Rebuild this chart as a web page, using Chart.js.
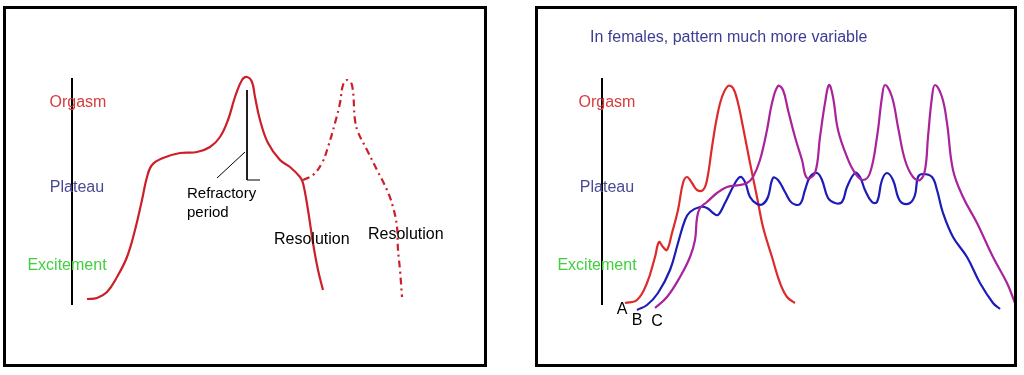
<!DOCTYPE html>
<html>
<head>
<meta charset="utf-8">
<script src="https://cdn.jsdelivr.net/npm/chart.js@4.4.1/dist/chart.umd.min.js"></script>
<style>
  body { margin: 0; background: #fff; }
  #wrap { position: relative; width: 1024px; height: 375px; overflow: hidden; }
  canvas { position: absolute; top: 0; }
  .frame { position: absolute; border: 3px solid #000; box-sizing: border-box; pointer-events: none; }
</style>
</head>
<body>
<div id="wrap">
  <canvas id="maleChart" width="512" height="375" style="left:0"></canvas>
  <canvas id="femaleChart" width="512" height="375" style="left:512px"></canvas>
  <div class="frame" style="left:3px;top:6px;width:484px;height:361px"></div>
  <div class="frame" style="left:535px;top:6px;width:482px;height:361px"></div>
</div>
<script>
// arousal levels (y) and their names, measured up from the bottom of the axis
const levelNames = ['Excitement', 'Plateau', 'Orgasm'];
const levelValues = [39, 117, 202];

// time (x) / arousal (y) pairs

// - - - - - male panel - - - - - //
const maleTime = [15, 25, 35, 45, 55, 63, 70, 75, 80, 91, 108, 125, 138, 148, 156, 163, 170, 175, 180, 183, 188, 196, 208, 218, 228, 231, 236, 241, 246, 251];
const maleLevel = [6, 7, 13, 28, 48, 75, 105, 128, 140, 147, 152, 153, 158, 168, 185, 208, 225, 228, 223, 208, 185, 162, 145, 138, 128, 122, 95, 62, 35, 15];

const secondTime = [231, 241, 250, 256, 263, 268, 271, 275, 280, 283, 286, 295, 305, 315, 321, 325, 326, 328, 330];
const secondLevel = [125, 130, 142, 158, 182, 202, 220, 225, 220, 185, 173, 155, 135, 115, 98, 78, 55, 35, 8];

const refractoryTime = [175, 175, 188];
const refractoryLevel = [215, 125, 125];
const pointerTime = [173, 145];
const pointerLevel = [153, 127];

// - - - - - female panel - - - - - //
const aTime = [23, 35, 45, 53, 57, 61, 65, 70, 76, 81, 85, 90, 95, 101, 105, 110, 115, 120, 126, 131, 136, 141, 148, 155, 161, 170, 178, 185, 193];
const aLevel = [2, 5, 22, 48, 63, 58, 55, 72, 95, 122, 128, 122, 115, 115, 125, 158, 188, 208, 219, 217, 202, 178, 142, 108, 78, 48, 22, 8, 2];

const bTime = [35, 45, 56, 68, 76, 83, 88, 98, 105, 111, 116, 123, 131, 138, 143, 148, 155, 161, 166, 171, 176, 183, 190, 198, 203, 208, 215, 220, 226, 233, 240, 245, 253, 258, 263, 270, 275, 280, 285, 291, 296, 300, 308, 313, 316, 321, 330, 335, 341, 351, 365, 378, 391, 398];
const bLevel = [-5, 0, 12, 35, 62, 85, 93, 98, 97, 92, 90, 102, 118, 128, 123, 108, 101, 101, 108, 127, 125, 113, 102, 101, 115, 128, 132, 125, 107, 102, 103, 118, 132, 128, 115, 103, 103, 125, 132, 125, 108, 102, 102, 110, 128, 131, 128, 115, 92, 68, 48, 22, 2, -4];

const cTime = [53, 65, 78, 88, 93, 95, 98, 105, 115, 125, 138, 145, 151, 158, 165, 170, 176, 181, 186, 193, 200, 205, 213, 218, 223, 227, 231, 236, 245, 253, 261, 268, 275, 280, 283, 290, 296, 303, 311, 318, 323, 326, 330, 333, 340, 345, 351, 361, 375, 391, 405, 413];
const cLevel = [-3, 8, 28, 48, 65, 87, 97, 103, 112, 118, 120, 122, 128, 145, 175, 202, 219, 215, 195, 168, 145, 127, 132, 168, 202, 220, 208, 175, 148, 132, 125, 132, 168, 208, 220, 208, 178, 145, 128, 125, 135, 168, 208, 220, 208, 182, 135, 108, 82, 48, 22, 2];

const axisTime = [0, 0];
const axisLevel = [0, 227];

const pairs = (xs, ys) => xs.map((x, i) => ({ x: x, y: ys[i] }));

// draws the text notes through the chart's own scales
const notesPlugin = {
	id : 'notes',
	afterDatasetsDraw(chart, args, opts) {
		const ctx = chart.ctx;
		const xs = chart.scales.x;
		const ys = chart.scales.y;
		ctx.save();
		ctx.textBaseline = 'middle';
		opts.items.forEach((n) => {
			ctx.font = (n.size || 16) + 'px "Liberation Sans", Arial, sans-serif';
			ctx.fillStyle = n.color || '#000';
			ctx.textAlign = n.align || 'left';
			ctx.fillText(n.text, xs.getPixelForValue(n.x), ys.getPixelForValue(n.y));
		});
		ctx.restore();
	}
};

const levelColors = ['#3fcf3f', '#4a4a94', '#d83c3c'];
const levelNotes = (offsets) => levelNames.map((name, i) => ({
	text  : name,
	x     : offsets[i],
	y     : levelValues[i],
	color : levelColors[i],
	align : 'center'
}));

const line = (data, color, width, extra) => Object.assign({
	data        : data,
	showLine    : true,
	borderColor : color,
	borderWidth : width,
	pointRadius : 0,
	fill        : false,
	tension     : 0.4
}, extra || {});

const baseOptions = (xMin, xMax, items) => ({
	responsive       : false,
	animation        : false,
	devicePixelRatio : 1,
	layout           : { padding: 0 },
	scales           : {
		x : { type: 'linear', min: xMin, max: xMax, display: false },
		y : { type: 'linear', min: -70, max: 305, display: false }
	},
	plugins          : {
		legend  : { display: false },
		tooltip : { enabled: false },
		notes   : { items: items }
	}
});

// - - - - - male chart - - - - - //
new Chart(document.getElementById('maleChart').getContext('2d'), {
	type    : 'scatter',
	data    : {
		datasets : [
			line(pairs(axisTime, axisLevel), '#000', 2, { tension: 0 }),
			line(pairs(maleTime, maleLevel), '#cc1f2a', 2.2),
			line(pairs(secondTime, secondLevel), '#cc1f2a', 2.2, { borderDash: [7, 4, 2, 4] }),
			line(pairs(refractoryTime, refractoryLevel), '#000', 1, { tension: 0 }),
			line(pairs(pointerTime, pointerLevel), '#000', 1, { tension: 0 })
		]
	},
	options : baseOptions(-72, 440, levelNotes([-5, 5, 6]).concat([
		{ text: 'Refractory', x: 115, y: 111, size: 15 },
		{ text: 'period', x: 115, y: 92, size: 15 },
		{ text: 'Resolution', x: 202, y: 65 },
		{ text: 'Resolution', x: 296, y: 70 }
	])),
	plugins : [notesPlugin]
});

// - - - - - female chart - - - - - //
new Chart(document.getElementById('femaleChart').getContext('2d'), {
	type    : 'scatter',
	data    : {
		datasets : [
			line(pairs(axisTime, axisLevel), '#000', 2, { tension: 0 }),
			line(pairs(cTime, cLevel), '#a8239c', 2.2),
			line(pairs(bTime, bLevel), '#1c1cb8', 2.2),
			line(pairs(aTime, aLevel), '#dd2a2a', 2.2)
		]
	},
	options : baseOptions(-90, 422, levelNotes([-5, 5, 5]).concat([
		{ text: 'In females, pattern much more variable', x: -12, y: 267, color: '#3c3c94' },
		{ text: 'A', x: 20, y: -5, align: 'center' },
		{ text: 'B', x: 35, y: -16, align: 'center' },
		{ text: 'C', x: 55, y: -17, align: 'center' }
	])),
	plugins : [notesPlugin]
});
</script>
</body>
</html>
